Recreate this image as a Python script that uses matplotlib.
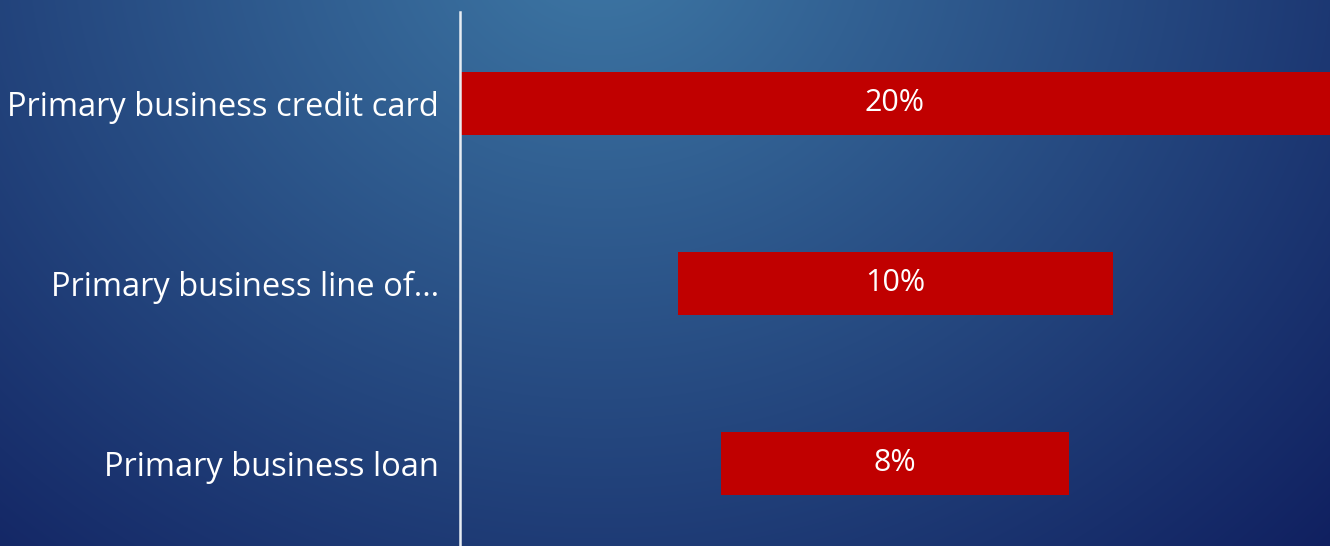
import numpy as np
import matplotlib
matplotlib.use("Agg")
import matplotlib.pyplot as plt

# funnel data: share of respondents by primary product
categories = ["Primary business credit card", "Primary business line of\u2026", "Primary business loan"]
values = [20, 10, 8]
value_labels = ["20%", "10%", "8%"]

plt.rcParams["font.family"] = ["Open Sans", "DejaVu Sans"]

W, H = 1330, 546
fig = plt.figure(figsize=(W / 100, H / 100), dpi=100)

# radial blue backdrop, lighter near the upper middle
bg = fig.add_axes([0, 0, 1, 1], zorder=0)
yy, xx = np.mgrid[0:H, 0:W]
d = np.sqrt((xx - 600) ** 2 + ((yy + 60) * 1.15) ** 2)
t = np.clip(d / 1100, 0, 1)[..., None]
light = np.array([62, 120, 165]) / 255
dark = np.array([12, 24, 90]) / 255
img = light * (1 - t) + dark * t
bg.imshow(img, aspect="auto", extent=[0, W, H, 0])
bg.axis("off")

ax = fig.add_axes([460 / W, 0, 870 / W, (H - 12) / H], zorder=1)
ax.patch.set_alpha(0)

top = max(values)
y = np.arange(len(categories))
lefts = [(top - v) / 2 for v in values]
bars = ax.barh(y, values, left=lefts, height=0.35, color="#c00000")

for b, lab in zip(bars, value_labels):
    ax.text(b.get_x() + b.get_width() / 2, b.get_y() + b.get_height() / 2, lab,
            ha="center", va="center", color="white", fontsize=22)

ax.set_xlim(0, top)
ax.set_ylim(2.461, -0.506)
ax.set_yticks(y)
ax.set_yticklabels(categories, fontsize=23.5, color="white")
ax.tick_params(axis="y", length=0, pad=15)
ax.set_xticks([])
for s in ["top", "right", "bottom"]:
    ax.spines[s].set_visible(False)
ax.spines["left"].set_color("#e8edf3")
ax.spines["left"].set_linewidth(1.8)

fig.savefig("out.png", dpi=100)
